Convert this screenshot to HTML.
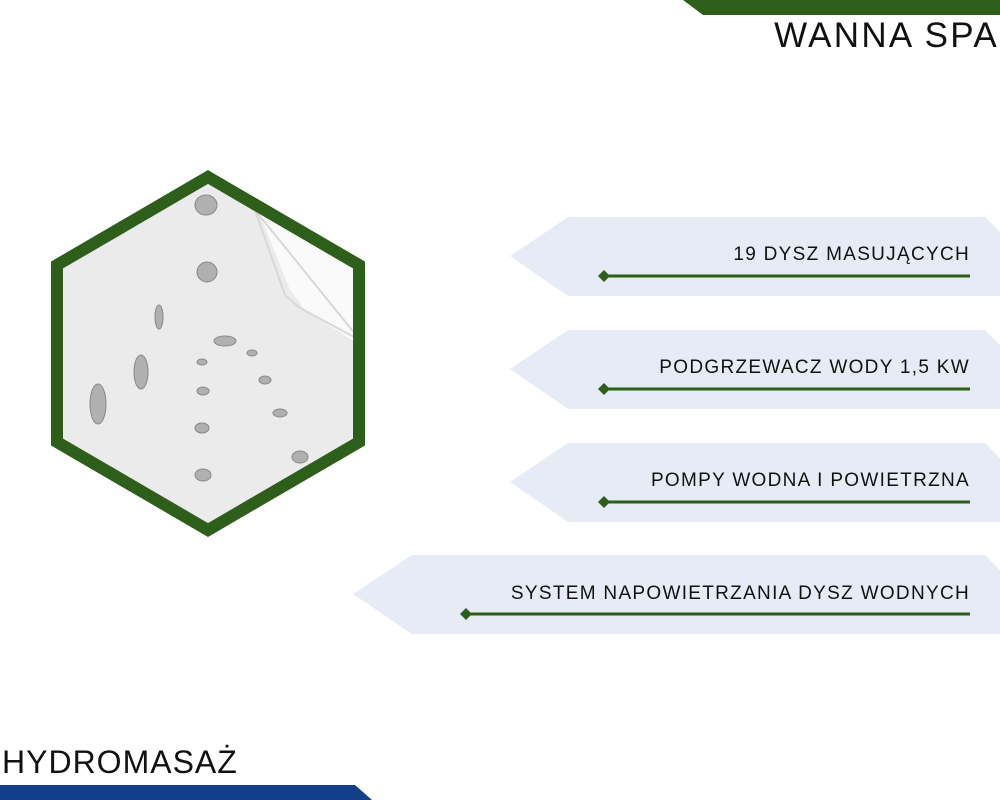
<!DOCTYPE html>
<html><head><meta charset="utf-8"><style>
body{margin:0;width:1000px;height:800px;background:#fff;overflow:hidden;position:relative;font-family:"Liberation Sans",sans-serif}
.t{position:absolute;color:#111;white-space:nowrap}
.b{font-size:19px;letter-spacing:1.3px;right:30px}
</style></head><body>
<svg width="1000" height="800" style="position:absolute;left:0;top:0">
<polygon points="683,0 1000,0 1000,15 703,15" fill="#2d5e1a"/>
<polygon points="0,785 355,785 372,800 0,800" fill="#123f87"/>
<g fill="#e7ebf5">
<polygon points="568,217 985,217 1000,232 1000,296 568,296 510,256"/>
<polygon points="568,330 985,330 1000,345 1000,409 568,409 510,369"/>
<polygon points="568,443 985,443 1000,458 1000,522 568,522 510,482"/>
<polygon points="412,555 985,555 1000,570 1000,634 412,634 353,594"/>
</g>
<g stroke="#2d5e1a" stroke-width="3">
<line x1="604" y1="276" x2="970" y2="276"/>
<line x1="604" y1="389" x2="970" y2="389"/>
<line x1="604" y1="502" x2="970" y2="502"/>
<line x1="466" y1="614" x2="970" y2="614"/>
</g>
<g fill="#2d5e1a">
<polygon points="604,270 610,276 604,282 598,276"/>
<polygon points="604,383 610,389 604,395 598,389"/>
<polygon points="604,496 610,502 604,508 598,502"/>
<polygon points="466,608 472,614 466,620 460,614"/>
</g>
<defs><clipPath id="h"><polygon points="208,177 359,265 359,442 208,530 57,442 57,265"/></clipPath></defs>
<g clip-path="url(#h)">
<rect x="40" y="160" width="340" height="390" fill="#ebebeb"/>
<polygon points="258,210 290,290 305,310 360,345 360,200" fill="#fafafa"/>
<polygon points="255,210 285,295 300,308 360,340" fill="none" stroke="#d8d8d8" stroke-width="2"/>
<g fill="#b0b0b0" stroke="#888" stroke-width="1">
<ellipse cx="206" cy="205" rx="11" ry="10"/>
<ellipse cx="207" cy="272" rx="10" ry="10"/>
<ellipse cx="159" cy="317" rx="4" ry="12"/>
<ellipse cx="141" cy="372" rx="7" ry="17"/>
<ellipse cx="98" cy="404" rx="8" ry="20"/>
<ellipse cx="225" cy="341" rx="11" ry="5"/>
<ellipse cx="252" cy="353" rx="5" ry="3"/>
<ellipse cx="202" cy="362" rx="5" ry="3"/>
<ellipse cx="265" cy="380" rx="6" ry="4"/>
<ellipse cx="203" cy="391" rx="6" ry="4"/>
<ellipse cx="280" cy="413" rx="7" ry="4"/>
<ellipse cx="202" cy="428" rx="7" ry="5"/>
<ellipse cx="300" cy="457" rx="8" ry="6"/>
<ellipse cx="203" cy="475" rx="8" ry="6"/>
</g>
</g>
<polygon points="208,177 359,265 359,442 208,530 57,442 57,265" fill="none" stroke="#2d5e1a" stroke-width="12"/>
</svg>
<div class="t" style="right:1px;top:16px;font-size:35px;letter-spacing:2.3px">WANNA SPA</div>
<div class="t" style="left:2px;top:744px;font-size:32px;letter-spacing:1px">HYDROMASAŻ</div>
<div class="t b" style="top:244px">19 DYSZ MASUJĄCYCH</div>
<div class="t b" style="top:357px">PODGRZEWACZ WODY 1,5 KW</div>
<div class="t b" style="top:470px">POMPY WODNA I POWIETRZNA</div>
<div class="t b" style="top:583px">SYSTEM NAPOWIETRZANIA DYSZ WODNYCH</div>
</body></html>
